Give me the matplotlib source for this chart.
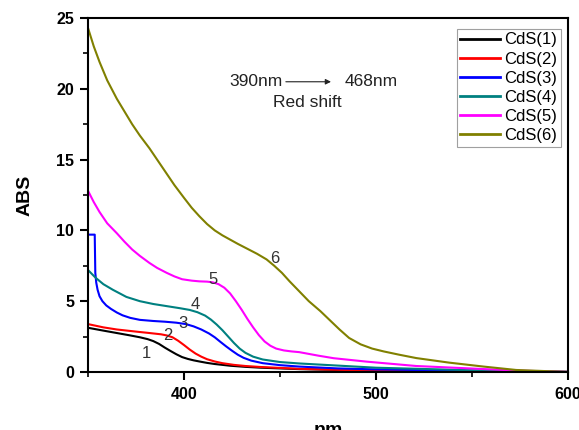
import matplotlib
matplotlib.use("Agg")
import matplotlib.pyplot as plt
from matplotlib.ticker import MultipleLocator

plt.rcParams['font.family'] = ['Liberation Sans', 'DejaVu Sans']

# ---- data ----
x1 = [350, 358, 365, 372, 377, 381, 384, 387, 390, 393, 396, 399, 402, 405, 408, 412, 416, 424, 432,
      440, 460, 480, 500, 550, 600]
y1 = [3.12, 2.92, 2.75, 2.58, 2.45, 2.32, 2.18, 1.98, 1.72, 1.48, 1.25, 1.05, 0.92, 0.82, 0.74, 0.64,
      0.56, 0.44, 0.36, 0.3, 0.2, 0.14, 0.1, 0.05, 0.0]

x2 = [350, 358, 365, 375, 382, 388, 391, 394, 397, 400, 403, 406, 409, 412, 416, 420, 426, 432, 440,
      460, 480, 500, 550, 600]
y2 = [3.38, 3.15, 3.0, 2.85, 2.75, 2.66, 2.58, 2.45, 2.2, 1.9, 1.58, 1.3, 1.08, 0.9, 0.74, 0.62, 0.5,
      0.42, 0.35, 0.22, 0.15, 0.1, 0.05, 0.0]

x3 = [350, 353.5, 353.8, 354.3, 355, 356, 357.5, 359.5, 362, 365, 368, 372, 377, 384, 390, 396, 401,
      405, 409, 413, 416, 419, 422, 425, 428, 431, 435, 441, 450, 460, 480, 500, 550, 600]
y3 = [9.7, 9.7, 7.0, 6.3, 5.8, 5.35, 5.0, 4.7, 4.45, 4.2, 4.0, 3.82, 3.68, 3.6, 3.55, 3.48, 3.38,
      3.22, 3.0, 2.72, 2.45, 2.12, 1.8, 1.5, 1.22, 1.0, 0.8, 0.62, 0.48, 0.38, 0.25, 0.18, 0.08, 0.0]

x4 = [350, 354, 358, 363, 370, 377, 384, 391, 398, 403, 407, 411, 414, 417, 420, 423, 426, 429, 432,
      436, 441, 450, 460, 480, 500, 550, 600]
y4 = [7.2, 6.65, 6.2, 5.8, 5.3, 5.0, 4.8, 4.65, 4.5, 4.38, 4.22, 3.98, 3.7, 3.35, 2.95, 2.5, 2.05,
      1.65, 1.35, 1.08, 0.88, 0.7, 0.6, 0.45, 0.3, 0.12, 0.0]

x5 = [350, 353, 356, 360, 365, 369, 373, 377, 382, 386, 391, 395, 399, 404, 408, 412, 415, 418, 421,
      424, 427, 430, 433, 436, 439, 442, 445, 448, 452, 456, 460, 470, 478, 495, 521, 547, 573, 600]
y5 = [12.8, 12.0, 11.3, 10.5, 9.8, 9.2, 8.65, 8.2, 7.7, 7.35, 7.0, 6.75, 6.55, 6.45, 6.4, 6.38, 6.33,
      6.2, 5.95, 5.55, 5.0, 4.4, 3.75, 3.15, 2.6, 2.15, 1.85, 1.65, 1.52, 1.45, 1.4, 1.15, 0.97, 0.73,
      0.42, 0.26, 0.1, 0.0]

x6 = [350, 353, 356, 360, 365, 369, 373, 377, 382, 386, 391, 395, 400, 404, 408, 412, 416, 420, 424,
      428, 433, 438, 443, 447, 451, 455, 460, 465, 471, 476, 481, 486, 492, 498, 504, 512, 521, 538,
      556, 573, 600]
y6 = [24.3, 23.0, 21.9, 20.6, 19.3, 18.4, 17.5, 16.7, 15.8, 15.0, 14.0, 13.2, 12.3, 11.6, 11.0, 10.45,
      10.0, 9.65, 9.35, 9.05, 8.7, 8.35, 7.95, 7.5, 7.0, 6.4, 5.7, 5.0, 4.3, 3.65, 3.0, 2.4, 1.95,
      1.65, 1.45, 1.22, 0.98, 0.66, 0.38, 0.14, 0.0]

series_x = [x1, x2, x3, x4, x5, x6]
series_y = [y1, y2, y3, y4, y5, y6]
names = ['CdS(1)', 'CdS(2)', 'CdS(3)', 'CdS(4)', 'CdS(5)', 'CdS(6)']
colors = ['#000000', '#ff0000', '#0000ff', '#008080', '#ff00ff', '#808000']

curve_labels = ['1', '2', '3', '4', '5', '6']
label_x = [380.5, 391.8, 399.6, 405.7, 415.0, 447.5]
label_y = [1.3, 2.55, 3.4, 4.75, 6.5, 8.0]

# ---- figure ----
fig = plt.figure(figsize=(5.79, 4.30), dpi=100)
ax = fig.add_axes([0.152, 0.135, 0.829, 0.823])

for xs, ys, nm, c in zip(series_x, series_y, names, colors):
    ax.plot(xs, ys, color=c, lw=1.5, label=nm, solid_joinstyle='round')

for t, lx, ly in zip(curve_labels, label_x, label_y):
    ax.text(lx, ly, t, fontsize=12, color='#333333', ha='center', va='center')

# annotation
ax.text(423.4, 20.5, '390nm', fontsize=12.5, color='#222222', ha='left', va='center')
ax.annotate('', xy=(478, 20.5), xytext=(451.6, 20.5),
            arrowprops=dict(arrowstyle='-|>', color='#222222', lw=0.8, mutation_scale=8))
ax.text(483.9, 20.5, '468nm', fontsize=12.5, color='#222222', ha='left', va='center')
ax.text(464, 19.05, 'Red shift', fontsize=12.5, color='#222222', ha='center', va='center')

ax.set_xlim(350, 600)
ax.set_ylim(0, 25)
ax.xaxis.set_major_locator(MultipleLocator(100))
ax.xaxis.set_minor_locator(MultipleLocator(50))
ax.yaxis.set_major_locator(MultipleLocator(5))
ax.yaxis.set_minor_locator(MultipleLocator(2.5))

ax.tick_params(which='major', direction='out', length=6, width=1.5, labelsize=11.5, pad=4)
ax.tick_params(which='minor', direction='out', length=3.5, width=1.2)
ax.tick_params(axis='x', which='major', pad=5)
for lab in ax.get_xticklabels() + ax.get_yticklabels():
    lab.set_fontweight('bold')

for s in ax.spines.values():
    s.set_linewidth(1.5)

ax.set_xlabel('nm', fontsize=14, fontweight='bold', labelpad=14)
ax.set_ylabel('ABS', fontsize=14, fontweight='bold', labelpad=16)

leg = ax.legend(loc='upper right', bbox_to_anchor=(0.985, 0.969), fontsize=12,
                handlelength=2.4, handletextpad=0.25, labelspacing=0.25,
                borderpad=0.2, borderaxespad=0, fancybox=False, frameon=True)
leg.get_frame().set_edgecolor('#888888')
leg.get_frame().set_linewidth(0.8)
for line in leg.get_lines():
    line.set_linewidth(2)

fig.savefig('out.png', dpi=100)
